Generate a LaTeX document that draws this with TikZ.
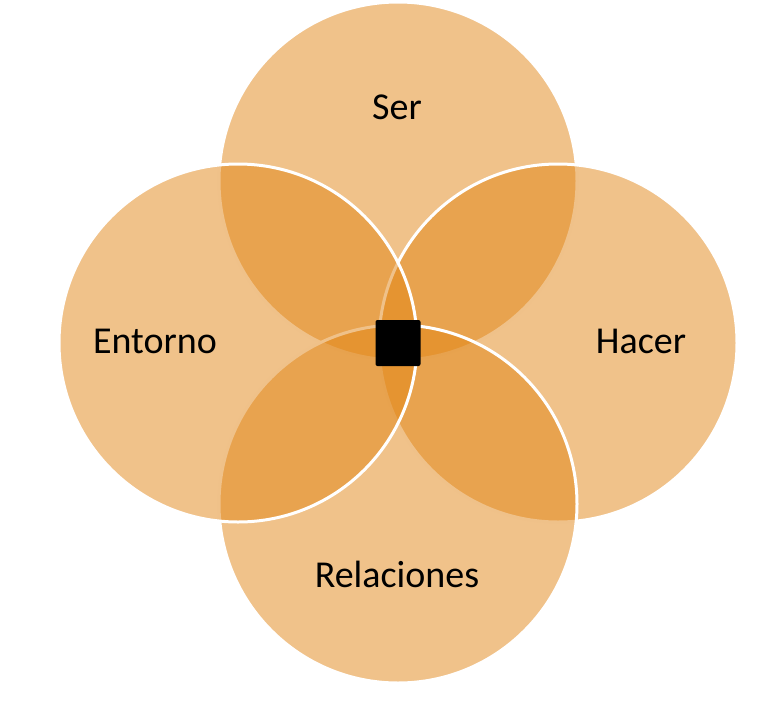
\documentclass[tikz,border=0pt]{standalone}
\usepackage{fontspec}
\setmainfont{Carlito}
\definecolor{petal}{RGB}{225,133,21}
\begin{document}
\begin{tikzpicture}[x=1pt,y=-1pt,
  petalc/.style={circle,inner sep=0pt,minimum size=358pt,fill=petal,fill opacity=0.5,draw=white,draw opacity=1,line width=3pt},
  lbl/.style={anchor=base,inner sep=0pt,font=\fontsize{38}{46}\selectfont,text=black}]
\useasboundingbox (0,0) rectangle (779,707);
\node[petalc] (ser) at (398,181) {};
\node[petalc] (hacer) at (558,343) {};
\node[petalc] (rel) at (398,504) {};
\node[petalc] (ent) at (238,343) {};
\node[fill=black,rounded corners=2pt,minimum width=45pt,minimum height=46pt,inner sep=0pt] (core) at (398,343) {};
\node[lbl] (tser) at (397,119) {Ser};
\node[lbl] (tent) at (155,353) {Entorno};
\node[lbl] (thacer) at (641,353) {Hacer};
\node[lbl] (trel) at (397,587) {Relaciones};
\end{tikzpicture}
\end{document}
